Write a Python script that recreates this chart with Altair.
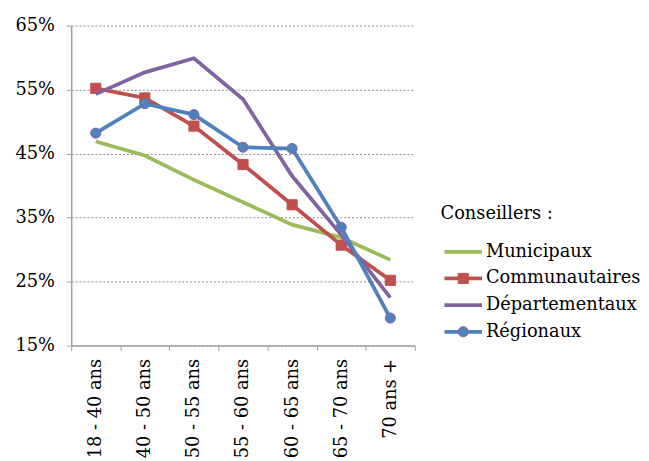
import altair as alt
import pandas as pd

categories = ["18 - 40 ans", "40 - 50 ans", "50 - 55 ans", "55 - 60 ans",
              "60 - 65 ans", "65 - 70 ans", "70 ans +"]
municipaux = [46.9, 44.7, 40.9, 37.4, 33.9, 31.9, 28.4]
communautaires = [55.2, 53.7, 49.3, 43.3, 37.0, 30.7, 25.2]
departementaux = [54.3, 57.7, 59.9, 53.5, 41.5, 32.3, 22.5]
regionaux = [48.2, 52.8, 51.1, 46.0, 45.8, 33.5, 19.3]

series = ["Municipaux", "Communautaires", "Départementaux", "Régionaux"]
colors = ["#9BBB59", "#C0504D", "#8064A2", "#4F81BD"]
markers = {"Communautaires": "square", "Régionaux": "circle"}
legend_title = "Conseillers :"
y_ticks = [0.15, 0.25, 0.35, 0.45, 0.55, 0.65]

FONT = "DejaVu Serif"

rows = []
for name, vals in zip(series, [municipaux, communautaires, departementaux, regionaux]):
    for c, v in zip(categories, vals):
        rows.append({"age": c, "series": name, "value": v / 100.0})
df = pd.DataFrame(rows)

color_scale = alt.Scale(domain=series, range=colors)
x_enc = alt.X("age:N", sort=categories,
              scale=alt.Scale(domain=categories, paddingInner=0, paddingOuter=0),
              axis=alt.Axis(title=None, labelAngle=270, tickBand="extent", grid=False,
                            labelFont=FONT, labelFontSize=18, labelColor="#000",
                            labelAlign="right", labelBaseline="middle",
                            labelPadding=8, tickSize=5, tickColor="#A0A0A0",
                            domainColor="#A0A0A0", domainWidth=1.5))
y_enc = alt.Y("value:Q",
              scale=alt.Scale(domain=[0.15, 0.65], nice=False, zero=False),
              axis=alt.Axis(title=None, values=y_ticks, format=".0%",
                            labelFont=FONT, labelFontSize=18, labelColor="#000",
                            labelPadding=12, tickSize=5, tickColor="#A0A0A0",
                            domainColor="#A0A0A0", domainWidth=1.5,
                            grid=True, gridDash=[2, 2], gridColor="#8C8C8C", gridWidth=1))
col_enc = alt.Color("series:N", scale=color_scale, legend=None)

base = alt.Chart(df)
main_layers = []
for name in series:
    main_layers.append(
        base.transform_filter(alt.datum.series == name)
        .mark_line(strokeWidth=3.8)
        .encode(x=x_enc, y=y_enc, color=col_enc)
    )
    if name in markers:
        main_layers.append(
            base.transform_filter(alt.datum.series == name)
            .mark_point(shape=markers[name], filled=True, size=105, opacity=1,
                        stroke="#8064A2" if markers[name] == "circle" else colors[series.index(name)],
                        strokeWidth=1)
            .encode(x=x_enc, y=y_enc, fill=alt.Fill("series:N", scale=color_scale, legend=None))
        )
main = alt.layer(*main_layers)

# custom legend
leg_df = pd.DataFrame({"series": series})
leg_y = alt.Y("series:N", sort=series,
              scale=alt.Scale(type="point", domain=series, range=[229, 310], padding=0),
              axis=None)
leg_base = alt.Chart(leg_df)
leg_rule = leg_base.mark_rule(strokeWidth=3.8).encode(
    x=alt.value(378), x2=alt.value(416), y=leg_y, color=col_enc)
leg_pts = []
for name, shp in markers.items():
    leg_pts.append(
        leg_base.transform_filter(alt.datum.series == name)
        .mark_point(shape=shp, filled=True, size=105, opacity=1,
                    stroke="#8064A2" if shp == "circle" else colors[series.index(name)],
                    strokeWidth=1)
        .encode(x=alt.value(397), y=leg_y,
                fill=alt.Fill("series:N", scale=color_scale, legend=None))
    )
leg_text = leg_base.mark_text(align="left", baseline="middle", font=FONT,
                              fontSize=18, color="#000").encode(
    x=alt.value(420), y=leg_y, text="series:N")
title_df = pd.DataFrame({"t": [legend_title]})
leg_title = alt.Chart(title_df).mark_text(align="left", baseline="middle", font=FONT,
                                           fontSize=18, color="#000").encode(
    x=alt.value(374), y=alt.value(191), text="t:N")
legend = alt.layer(leg_rule, *leg_pts, leg_text, leg_title)

chart = alt.layer(main, legend).resolve_scale(y="independent").properties(
    width=348, height=324,
    autosize=alt.AutoSizeParams(type="none"),
    padding={"left": 64, "top": 15, "right": 229, "bottom": 114},
    background="white",
).configure_view(stroke=None)

chart.save("out.html", embed_options={"renderer": "svg", "actions": False})
